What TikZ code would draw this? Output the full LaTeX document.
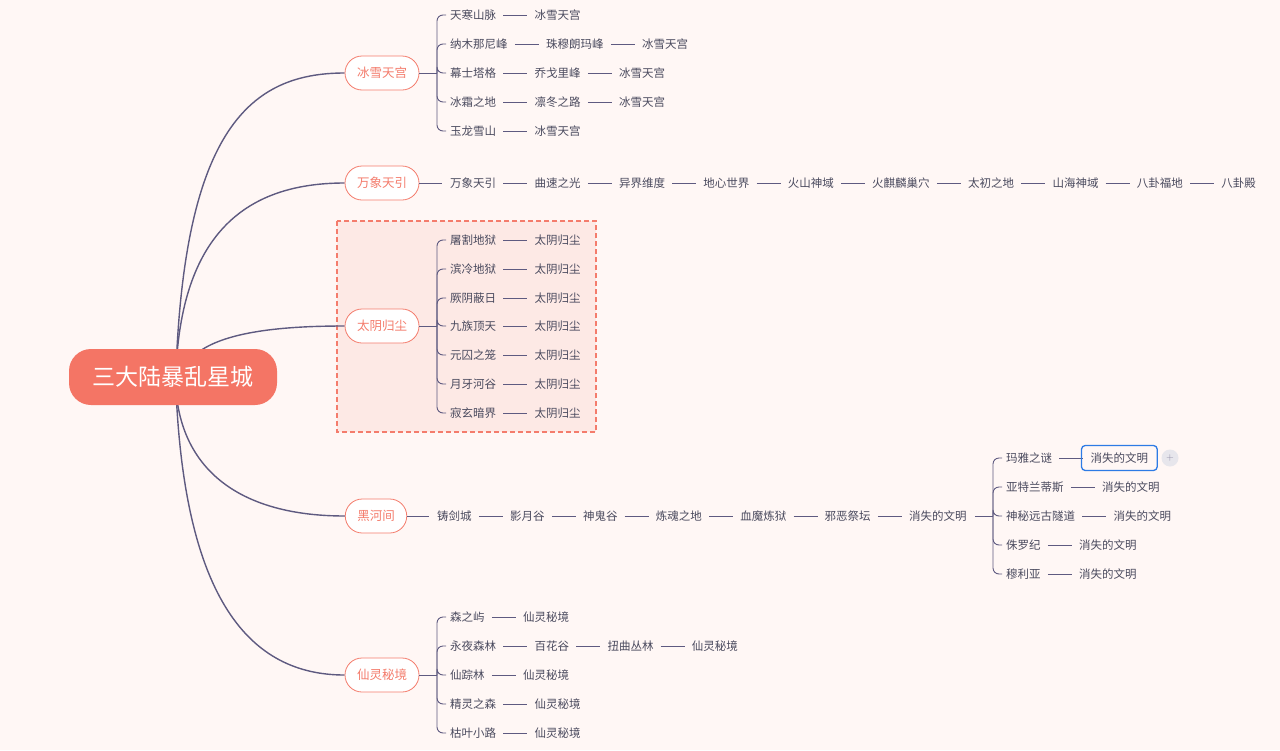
\documentclass[tikz,border=0pt]{standalone}
\usepackage{fontspec}
\newfontfamily\cjk{Noto Sans CJK SC}
\usetikzlibrary{positioning,backgrounds,fit}
\definecolor{bg}{HTML}{FFF7F5}
\definecolor{ln}{HTML}{5E5A80}
\definecolor{tx}{HTML}{4A4A5E}
\definecolor{sal}{HTML}{F47C6C}
\definecolor{root}{HTML}{F47565}
\definecolor{boxf}{HTML}{FDE9E5}
\definecolor{sel}{HTML}{2D7BE5}
\tikzset{
 txt/.style={inner sep=0pt,font=\cjk\fontsize{11.5}{12}\selectfont,text=tx},
 ln/.style={draw=ln,line width=0.9pt,shorten <=7pt,shorten >=7pt},
 br/.style={draw=ln,line width=0.9pt},
 branch/.style={draw=sal,fill=white,line width=0.8pt,rounded corners=17pt,minimum height=34pt,inner xsep=12pt,font=\cjk\fontsize{12.5}{13}\selectfont,text=sal},
 rootn/.style={fill=root,rounded corners=22pt,minimum width=208pt,minimum height=56pt,font=\cjk\fontsize{23}{24}\selectfont,text=white},
 curve/.style={draw=ln,line width=1.4pt}
}
\newcommand\rowchain[4]{%
 \foreach \t [count=\i, remember=\i as \j (initially 0)] in {#4} {%
   \ifnum\i=1 \node[txt,anchor=west] (#1-\i) at (#2,#3) {\t};%
   \else \node[txt,right=38pt of #1-\j] (#1-\i) {\t}; \draw[ln] (#1-\j) -- (#1-\i);\fi}}
\newcommand\brk[4]{% x, parent y, child node, shorten
 \draw[br,rounded corners=6pt] (#1,#2) |- ([xshift=-#4]#3.west);}
\begin{document}
\begin{tikzpicture}[x=1pt,y=-1pt]
\useasboundingbox (0,0) rectangle (1280,750);
\node[rootn] (root) at (173,377) {三大陆暴乱星城};
\node[branch] (b1) at (382,73) {冰雪天宫};
\node[branch] (b2) at (382,183) {万象天引};
\node[branch] (b3) at (382,326) {太阴归尘};
\node[branch] (b4) at (376,516) {黑河间};
\node[branch] (b5) at (382,675) {仙灵秘境};
\begin{scope}[on background layer]
\fill[bg] (0,0) rectangle (1280,750);
\draw[sal,line width=1.5pt,fill=boxf,dash pattern=on 5pt off 3pt] (337,221) rectangle (596,432);
\draw[curve] (176,370) .. controls (185,130) and (250,73) .. (b1.west);
\draw[curve] (176,370) .. controls (182,240) and (240,183) .. (b2.west);
\draw[curve] (190,360) .. controls (215,330) and (290,326) .. (b3.west);
\draw[curve] (176,390) .. controls (182,470) and (240,516) .. (b4.west);
\draw[curve] (176,390) .. controls (185,600) and (250,675) .. (b5.west);
\end{scope}
% branch 1
\rowchain{a}{450}{15}{天寒山脉,冰雪天宫}
\rowchain{b}{450}{44}{纳木那尼峰,珠穆朗玛峰,冰雪天宫}
\rowchain{c}{450}{73}{幕士塔格,乔戈里峰,冰雪天宫}
\rowchain{d}{450}{102}{冰霜之地,凛冬之路,冰雪天宫}
\rowchain{e}{450}{131}{玉龙雪山,冰雪天宫}
\draw[br] (b1.east) -- (437,73);
\foreach \n in {a,b,c,d,e} {\brk{437}{73}{\n-1}{4pt}}
% branch 2
\rowchain{f}{450}{183}{万象天引,曲速之光,异界维度,地心世界,火山神域,火麒麟巢穴,太初之地,山海神域,八卦福地,八卦殿}
\draw[br] (b2.east) -- ([xshift=-8pt]f-1.west);
% branch 3
\rowchain{g}{450}{240}{屠割地狱,太阴归尘}
\rowchain{h}{450}{269}{滨冷地狱,太阴归尘}
\rowchain{i}{450}{298}{厥阴蔽日,太阴归尘}
\rowchain{j}{450}{326}{九族顶天,太阴归尘}
\rowchain{k}{450}{355}{元囚之笼,太阴归尘}
\rowchain{l}{450}{384}{月牙河谷,太阴归尘}
\rowchain{m}{450}{413}{寂玄暗界,太阴归尘}
\draw[br] (b3.east) -- (437,326);
\foreach \n in {g,h,i,j,k,l,m} {\brk{437}{326}{\n-1}{4pt}}
% branch 4
\rowchain{n}{437}{516}{铸剑城,影月谷,神鬼谷,炼魂之地,血魔炼狱,邪恶祭坛,消失的文明}
\draw[br] (b4.east) -- ([xshift=-8pt]n-1.west);
\rowchain{o}{1006}{458}{玛雅之谜,消失的文明}
\rowchain{p}{1006}{487}{亚特兰蒂斯,消失的文明}
\rowchain{q}{1006}{516}{神秘远古隧道,消失的文明}
\rowchain{r}{1006}{545}{侏罗纪,消失的文明}
\rowchain{s}{1006}{574}{穆利亚,消失的文明}
\draw[br] ([xshift=8pt]n-7.east) -- (993,516);
\foreach \n in {o,p,q,r,s} {\brk{993}{516}{\n-1}{4pt}}
\node[draw=sel,line width=1.3pt,rounded corners=4pt,fit=(o-2),inner xsep=9pt,inner ysep=7pt] (selbox) {};
\node[circle,fill=ln!15,minimum size=17pt,inner sep=0pt,text=ln!70,font=\sffamily\normalsize] (plus) at (1170,458) {+};
% branch 5
\rowchain{t}{450}{617}{森之屿,仙灵秘境}
\rowchain{u}{450}{646}{永夜森林,百花谷,扭曲丛林,仙灵秘境}
\rowchain{v}{450}{675}{仙踪林,仙灵秘境}
\rowchain{w}{450}{704}{精灵之森,仙灵秘境}
\rowchain{y}{450}{733}{枯叶小路,仙灵秘境}
\draw[br] (b5.east) -- (437,675);
\foreach \n in {t,u,v,w,y} {\brk{437}{675}{\n-1}{4pt}}
\end{tikzpicture}
\end{document}
